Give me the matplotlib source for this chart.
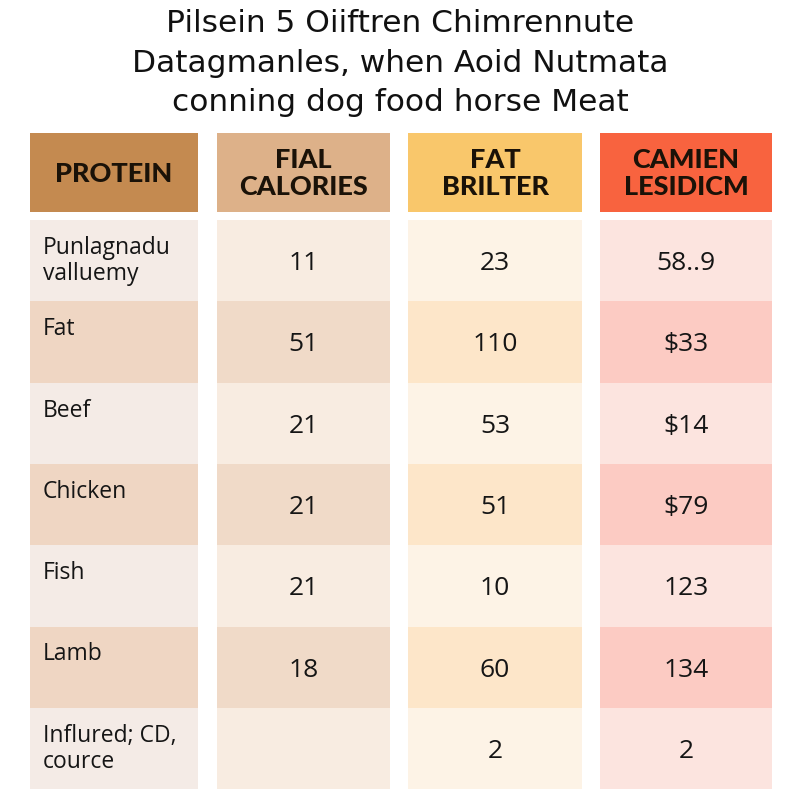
import matplotlib.pyplot as plt
from matplotlib.patches import Rectangle

title = "Pilsein 5 Oiiftren Chimrennute\nDatagmanles, when Aoid Nutmata\nconning dog food horse Meat"
headers = ["PROTEIN", "FIAL\nCALORIES", "FAT\nBRILTER", "CAMIEN\nLESIDICM"]
row_labels = ["Punlagnadu\nvalluemy", "Fat", "Beef", "Chicken", "Fish", "Lamb",
              "Influred; CD,\ncource"]
calories = ["11", "51", "21", "21", "21", "18", ""]
fat = ["23", "110", "53", "51", "10", "60", "2"]
cost = ["58..9", "$33", "$14", "$79", "123", "134", "2"]

# column layout (pixel space, 800x800 canvas)
col_left = [30, 217, 408, 600]
col_right = [198, 390, 582, 772]
head_top, head_bot = 133, 212
row_top, row_h = 220, 81.3

head_colors = ["#c48a50", "#ddb189", "#f9c76b", "#f8633f"]
light_colors = ["#f4ebe6", "#f8ece1", "#fdf3e6", "#fce4df"]
dark_colors = ["#efd6c3", "#f0dac8", "#fde6c9", "#fccbc3"]

fig = plt.figure(figsize=(8, 8), dpi=100)
ax = fig.add_axes([0, 0, 1, 1])
ax.set_xlim(0, 800)
ax.set_ylim(800, 0)
ax.axis('off')
fig.patch.set_facecolor('white')

ax.text(400, 63, title, ha='center', va='center', fontsize=22.5,
        family='DejaVu Sans', linespacing=1.45, color='#111111')

for j, h in enumerate(headers):
    x0, x1 = col_left[j], col_right[j]
    ax.add_patch(Rectangle((x0, head_top), x1 - x0, head_bot - head_top,
                           facecolor=head_colors[j], edgecolor='none'))
    ax.text((x0 + x1) / 2, (head_top + head_bot) / 2 + 1, h, ha='center', va='center',
            fontsize=19.5, family='Lato', weight='black', color='#1a1208',
            linespacing=1.15)

columns = [row_labels, calories, fat, cost]
for i in range(len(row_labels)):
    y0 = row_top + i * row_h
    for j, col in enumerate(columns):
        x0, x1 = col_left[j], col_right[j]
        fc = dark_colors[j] if i % 2 == 1 else light_colors[j]
        ax.add_patch(Rectangle((x0, y0), x1 - x0, row_h,
                               facecolor=fc, edgecolor='none'))
        if j == 0:
            ax.text(x0 + 13, y0 + 16, col[i], ha='left', va='top',
                    fontsize=16.5, family='Open Sans', color='#151515',
                    linespacing=1.1)
        else:
            ax.text((x0 + x1) / 2, y0 + row_h / 2 + 3, col[i], ha='center',
                    va='center', fontsize=19, family='Open Sans', color='#151515')

fig.savefig('out.png', dpi=100)
